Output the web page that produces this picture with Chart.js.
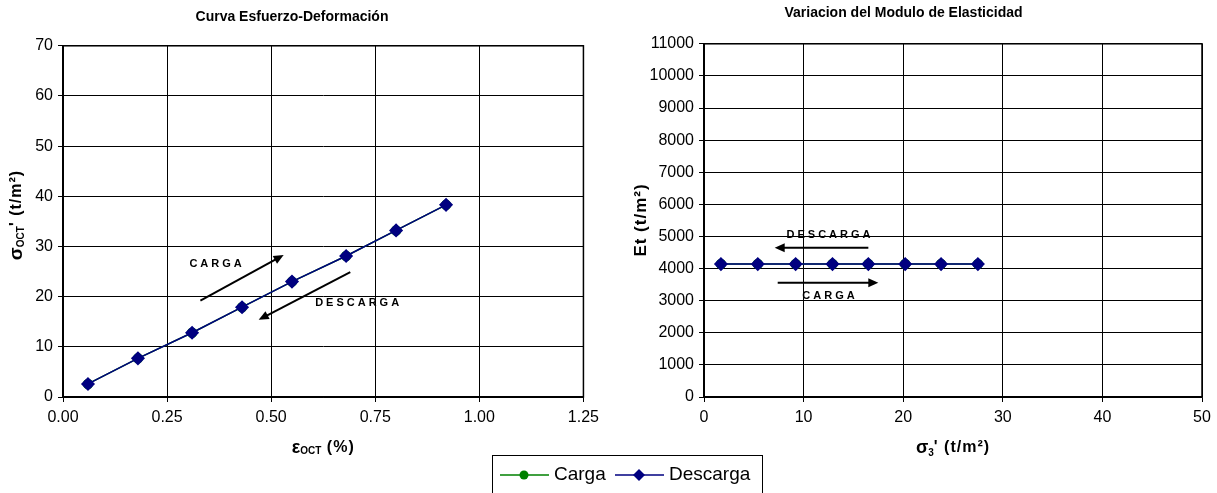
<!DOCTYPE html>
<html>
<head>
<meta charset="utf-8">
<script src="https://cdn.jsdelivr.net/npm/chart.js@4.4.0/dist/chart.umd.min.js"></script>
<style>
body { margin: 0; background: #fff; width: 1217px; height: 493px; overflow: hidden; position: relative; font-family: "Liberation Sans", Arial, sans-serif; }
#left { position: absolute; left: 0; top: 0; }
#right { position: absolute; left: 605px; top: 0; }
.legend { position: absolute; left: 492px; top: 455px; width: 271px; height: 50px; border: 1px solid #000; box-sizing: border-box; }
.legend svg { position: absolute; left: 0; top: 0; }
.legend span { position: absolute; top: 7px; font-size: 19px; color: #000; }
</style>
</head>
<body>
<canvas id="left" width="605" height="460"></canvas>
<canvas id="right" width="612" height="460"></canvas>
<div class="legend">
  <svg width="270" height="40">
    <line x1="7" y1="19" x2="56" y2="19" stroke="#008000" stroke-width="1.5"/>
    <circle cx="31" cy="19" r="4.5" fill="#008000"/>
    <line x1="122" y1="19" x2="171" y2="19" stroke="#000080" stroke-width="1.5"/>
    <polygon points="146,13 152,19 146,25 140,19" fill="#000080"/>
  </svg>
  <span style="left:61px">Carga</span>
  <span style="left:176px">Descarga</span>
</div>
<script>
// Curva esfuerzo-deformacion
const strain = [0.06, 0.18, 0.31, 0.43, 0.55, 0.68, 0.80, 0.92];
const stressOct = [2.6, 7.7, 12.8, 17.9, 23.0, 28.1, 33.2, 38.3];

// Modulo de elasticidad
const sigma3 = [1.7, 5.4, 9.2, 12.9, 16.5, 20.2, 23.8, 27.5];
const modulo = [4140, 4140, 4140, 4140, 4140, 4140, 4140, 4140];

const strainTicks = [0, 0.25, 0.5, 0.75, 1.0, 1.25];
const stressTicks = [0, 10, 20, 30, 40, 50, 60, 70];
const sigmaTicks = [0, 10, 20, 30, 40, 50];
const moduloTicks = [0, 1000, 2000, 3000, 4000, 5000, 6000, 7000, 8000, 9000, 10000, 11000];

const FONT = '"Liberation Sans", Arial, sans-serif';
const GREEN = '#008000';
const NAVY = '#000080';

function pts(xs, ys) {
    return xs.map((x, i) => ({ x: x, y: ys[i] }));
}

function seriesFor(xs, ys) {
    return [{
        label: 'Carga',
        data: pts(xs, ys),
        order: 1,
        borderColor: GREEN,
        backgroundColor: GREEN,
        borderWidth: 1.5,
        pointStyle: 'circle',
        pointRadius: 4.5,
        showLine: true
    }, {
        label: 'Descarga',
        data: pts(xs, ys),
        order: 0,
        borderColor: NAVY,
        backgroundColor: NAVY,
        borderWidth: 1.5,
        pointStyle: 'rectRot',
        pointRadius: 6,
        showLine: true
    }];
}

// text with subscripts, drawn centered at (0,0)
function richText(ctx, parts) {
    let total = 0;
    parts.forEach(p => {
        ctx.font = p.font;
        ctx.letterSpacing = p.ls || '0px';
        total += ctx.measureText(p.t).width;
    });
    let x = -total / 2;
    ctx.textBaseline = 'middle';
    ctx.textAlign = 'left';
    parts.forEach(p => {
        ctx.font = p.font;
        ctx.letterSpacing = p.ls || '0px';
        ctx.fillText(p.t, x, p.dy || 0);
        x += ctx.measureText(p.t).width;
    });
}

// axis titles + arrows with labels
const extras = {
    id: 'extras',
    afterDraw(chart, args, opts) {
        const ctx = chart.ctx;
        const a = chart.chartArea;
        const sx = chart.scales.x, sy = chart.scales.y;
        ctx.save();
        ctx.fillStyle = '#000';
        ctx.translate((a.left + a.right) / 2, 448);
        richText(ctx, opts.xTitle);
        ctx.restore();

        ctx.save();
        ctx.fillStyle = '#000';
        ctx.translate(opts.yTitleX, opts.yTitleY);
        ctx.rotate(-Math.PI / 2);
        richText(ctx, opts.yTitle);
        ctx.restore();

        opts.notes.forEach(n => {
            ctx.save();
            ctx.fillStyle = '#000';
            ctx.font = 'bold 11px ' + FONT;
            ctx.letterSpacing = '3px';
            ctx.textAlign = 'center';
            ctx.textBaseline = 'middle';
            ctx.fillText(n.text, sx.getPixelForValue(n.tx), sy.getPixelForValue(n.ty));
            ctx.restore();

            const x1 = sx.getPixelForValue(n.from[0]), y1 = sy.getPixelForValue(n.from[1]);
            const x2 = sx.getPixelForValue(n.to[0]), y2 = sy.getPixelForValue(n.to[1]);
            const ang = Math.atan2(y2 - y1, x2 - x1);
            ctx.save();
            ctx.strokeStyle = '#000';
            ctx.fillStyle = '#000';
            ctx.lineWidth = 2;
            ctx.beginPath();
            ctx.moveTo(x1, y1);
            ctx.lineTo(x2 - 8 * Math.cos(ang), y2 - 8 * Math.sin(ang));
            ctx.stroke();
            ctx.beginPath();
            ctx.moveTo(x2, y2);
            ctx.lineTo(x2 - 10 * Math.cos(ang) + 4.5 * Math.sin(ang), y2 - 10 * Math.sin(ang) - 4.5 * Math.cos(ang));
            ctx.lineTo(x2 - 10 * Math.cos(ang) - 4.5 * Math.sin(ang), y2 - 10 * Math.sin(ang) + 4.5 * Math.cos(ang));
            ctx.closePath();
            ctx.fill();
            ctx.restore();
        });
    }
};

function makeChart(id, cfg) {
    return new Chart(document.getElementById(id), {
        type: 'scatter',
        data: { datasets: seriesFor(cfg.xs, cfg.ys) },
        options: {
            responsive: false,
            animation: false,
            layout: { padding: { top: 0, left: 0, right: cfg.padRight, bottom: 0 } },
            plugins: {
                legend: { display: false },
                tooltip: { enabled: false },
                title: {
                    display: true,
                    text: cfg.title,
                    color: '#000',
                    font: { family: FONT, size: 14, weight: 'bold' },
                    padding: cfg.titlePad
                },
                extras: {
                    xTitle: cfg.xTitle,
                    yTitle: cfg.yTitle,
                    yTitleX: cfg.yTitleX,
                    yTitleY: cfg.yTitleY,
                    notes: cfg.notes
                }
            },
            scales: {
                x: {
                    min: cfg.xTicks[0],
                    max: cfg.xTicks[cfg.xTicks.length - 1],
                    afterBuildTicks: s => { s.ticks = cfg.xTicks.map(v => ({ value: v })); },
                    afterFit: s => { s.height = 63; },
                    border: { color: '#000', width: 1.5 },
                    grid: { color: '#000', lineWidth: 1, tickLength: 5 },
                    ticks: {
                        color: '#000',
                        padding: 6,
                        maxRotation: 0,
                        font: { family: FONT, size: 16 },
                        callback: cfg.xFmt
                    }
                },
                y: {
                    min: cfg.yTicks[0],
                    max: cfg.yTicks[cfg.yTicks.length - 1],
                    afterBuildTicks: s => { s.ticks = cfg.yTicks.map(v => ({ value: v })); },
                    afterFit: s => { s.width = cfg.yWidth; },
                    border: { color: '#000', width: 1.5 },
                    grid: { color: '#000', lineWidth: 1, tickLength: 5 },
                    ticks: {
                        color: '#000',
                        padding: 5,
                        font: { family: FONT, size: 16 },
                        callback: v => String(v)
                    }
                }
            }
        },
        plugins: [extras, {
            id: 'frame',
            afterDraw(chart) {
                const a = chart.chartArea, ctx = chart.ctx;
                ctx.save();
                ctx.strokeStyle = '#000';
                ctx.lineWidth = 1.5;
                ctx.strokeRect(a.left, a.top, a.right - a.left, a.bottom - a.top);
                ctx.restore();
            }
        }]
    });
}

makeChart('left', {
    xs: strain, ys: stressOct,
    xTicks: strainTicks, yTicks: stressTicks,
    xFmt: v => Number(v).toFixed(2),
    title: 'Curva Esfuerzo-Deformación',
    titlePad: { top: 9, bottom: 20 },
    padRight: 21,
    yWidth: 63,
    yTitleX: 17,
    yTitleY: 215,
    xTitle: [
        { t: 'ε', font: 'bold 18px ' + FONT },
        { t: 'OCT', font: 'bold 10px ' + FONT, dy: 3 },
        { t: ' (%)', font: 'bold 16px ' + FONT, ls: '1px' }
    ],
    yTitle: [
        { t: 'σ', font: 'bold 19px ' + FONT },
        { t: 'OCT', font: 'bold 10px ' + FONT, dy: 4 },
        { t: "' (t/m²)", font: 'bold 16px ' + FONT, ls: '1px' }
    ],
    notes: [
        { text: 'CARGA', tx: 0.37, ty: 26.5, from: [0.33, 19.2], to: [0.53, 28.3] },
        { text: 'DESCARGA', tx: 0.71, ty: 18.8, from: [0.69, 24.9], to: [0.47, 15.4] }
    ]
});

makeChart('right', {
    xs: sigma3, ys: modulo,
    xTicks: sigmaTicks, yTicks: moduloTicks,
    xFmt: v => String(v),
    title: 'Variacion del Modulo de Elasticidad',
    titlePad: { top: 5, bottom: 22 },
    padRight: 15,
    yWidth: 99,
    yTitleX: 36,
    yTitleY: 220,
    xTitle: [
        { t: 'σ', font: 'bold 18px ' + FONT },
        { t: '3', font: 'bold 10px ' + FONT, dy: 5 },
        { t: "' (t/m²)", font: 'bold 16px ' + FONT, ls: '1px' }
    ],
    yTitle: [
        { t: 'Et (t/m²)', font: 'bold 17px ' + FONT, ls: '1px' }
    ],
    notes: [
        { text: 'DESCARGA', tx: 12.65, ty: 5050, from: [16.5, 4645], to: [7.1, 4645] },
        { text: 'CARGA', tx: 12.65, ty: 3150, from: [7.4, 3555], to: [17.5, 3555] }
    ]
});
</script>
</body>
</html>
